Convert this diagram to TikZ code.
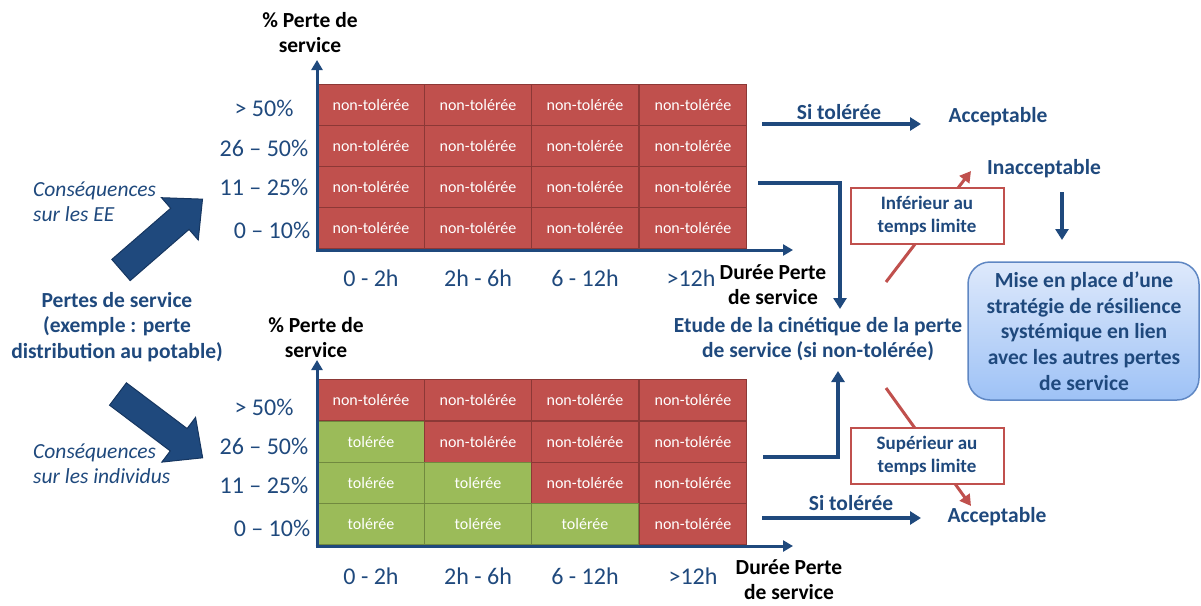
\documentclass[tikz,border=0pt]{standalone}
\usepackage{fontspec}
\setmainfont{Carlito}
\usetikzlibrary{arrows.meta}
\definecolor{dblue}{RGB}{31,73,125}
\definecolor{dbluedk}{RGB}{22,54,96}
\definecolor{cred}{RGB}{192,80,77}
\definecolor{credb}{RGB}{140,56,54}
\definecolor{cgreen}{RGB}{155,187,89}
\definecolor{cgreenb}{RGB}{113,137,63}
\definecolor{boxtop}{RGB}{222,233,251}
\definecolor{boxbot}{RGB}{158,194,246}
\definecolor{boxedge}{RGB}{95,135,195}
\begin{document}
\begin{tikzpicture}[x=1pt,y=-1pt,
  cell/.style={line width=1.2, minimum width=107, minimum height=41, inner sep=0, text=white, font=\fontsize{16}{18}\selectfont},
  redcell/.style={cell, draw=credb, fill=cred},
  greencell/.style={cell, draw=cgreenb, fill=cgreen},
  axis/.style={draw=dblue, line width=3, -{Triangle[length=10,width=11]}},
  conn/.style={draw=dblue, line width=3.5, -{Triangle[length=11,width=13]}},
  redconn/.style={draw=cred, line width=3, -{Triangle[length=11,width=12]}},
  rowlab/.style={text=dblue, font=\fontsize{24}{26}\selectfont, inner sep=0},
  collab/.style={text=dblue, font=\fontsize{24}{26}\selectfont, inner sep=0},
  axtitle/.style={text=black, font=\bfseries\fontsize{21.5}{25}\selectfont, align=center, inner sep=0},
  bluebold/.style={text=dblue, font=\bfseries\fontsize{21.5}{25.7}\selectfont, align=center, inner sep=0},
  italab/.style={text=dblue, font=\itshape\fontsize{21.5}{25}\selectfont, align=left, inner sep=0, anchor=west},
  redbox/.style={draw=cred, line width=2, fill=white, minimum width=153, minimum height=56, align=center, text=dblue, font=\bfseries\fontsize{19}{23}\selectfont},
  bigarrow/.style={fill=dblue, draw=dbluedk, line width=1}
]
\useasboundingbox (0,0) rectangle (1201,605);

% ---------- top chart ----------
\foreach \c/\x in {1/371,2/478,3/585,4/693}{
  \foreach \r/\y in {1/105,2/146,3/187,4/228}{
    \node[redcell] (t\r\c) at (\x,\y) {non-tolérée};
  }
}
\coordinate (tO) at (317,250);
\coordinate (tYend) at (317,60);
\coordinate (tXend) at (793,250);
\draw[axis] (tO) -- (tYend);
\draw[axis] ([xshift=-1.5]tO) -- (tXend);

\node[rowlab] (tl1) at (264,108) {> 50\%};
\node[rowlab] (tl2) at (264,148) {26 – 50\%};
\node[rowlab] (tl3) at (264,187) {11 – 25\%};
\node[rowlab] (tl4) at (272,230) {0 – 10\%};

\node[collab] (tc1) at (371,278) {0 - 2h};
\node[collab] (tc2) at (478,278) {2h - 6h};
\node[collab] (tc3) at (585,278) {6 - 12h};
\node[collab] (tc4) at (691,278) {>12h};

\node[axtitle] (tyt) at (310,33) {\% Perte de\\service};
\node[axtitle] (txt) at (773,285) {Durée Perte\\de service};

% ---------- bottom chart ----------
\foreach \c/\x in {1/371,2/478,3/585,4/693}{
  \foreach \r/\y in {1/400,2/442,3/483,4/524}{
    \ifnum\c<\r
      \node[greencell] (b\r\c) at (\x,\y) {tolérée};
    \else
      \node[redcell] (b\r\c) at (\x,\y) {non-tolérée};
    \fi
  }
}
\coordinate (bO) at (317,546);
\coordinate (bYend) at (317,360);
\coordinate (bXend) at (793,546);
\draw[axis] (bO) -- (bYend);
\draw[axis] ([xshift=-1.5]bO) -- (bXend);

\node[rowlab] (bl1) at (264,407) {> 50\%};
\node[rowlab] (bl2) at (264,446) {26 – 50\%};
\node[rowlab] (bl3) at (264,485) {11 – 25\%};
\node[rowlab] (bl4) at (272,528) {0 – 10\%};

\node[collab] (bc1) at (371,576) {0 - 2h};
\node[collab] (bc2) at (478,576) {2h - 6h};
\node[collab] (bc3) at (585,576) {6 - 12h};
\node[collab] (bc4) at (693,576) {>12h};

\node[axtitle] (byt) at (316,338) {\% Perte de\\service};
\node[axtitle] (bxt) at (789,580) {Durée Perte\\de service};

% ---------- left side ----------
\node[italab] (ce) at (33,202) {Conséquences\\sur les EE};
\node[bluebold] (pds) at (117,327) {Pertes de service\\(exemple : perte\\distribution au potable)};
\node[italab] (ci) at (33,464) {Conséquences\\sur les individus};

\begin{scope}[shift={(121,270)}, rotate=41]
  \draw[bigarrow] (0,-14) -- (78,-14) -- (78,-28) -- (108,0) -- (78,28) -- (78,14) -- (0,14) -- cycle;
\end{scope}
\begin{scope}[shift={(118,394)}, rotate=-37]
  \draw[bigarrow] (0,-14) -- (76,-14) -- (76,-28) -- (106,0) -- (76,28) -- (76,14) -- (0,14) -- cycle;
\end{scope}

% ---------- right side ----------
\node[bluebold] (st1) at (839,112) {Si tolérée};
\node[bluebold] (acc1) at (998,117) {Acceptable};
\coordinate (st1a) at (762,124);
\coordinate (st1b) at (921,124);
\draw[conn] (st1a) -- (st1b);

\node[bluebold] (inacc) at (1044,169) {Inacceptable};
\coordinate (inaccA) at (1062,192);
\coordinate (inaccB) at (1062,240);
\draw[conn] (inaccA) -- (inaccB);

\node[bluebold] (etude) at (818,339) {Etude de la cinétique de la perte\\de service (si non-tolérée)};
\coordinate (topout) at (758,183);
\coordinate (topin) at (840,309);
\draw[conn] (topout) -| (topin);
\coordinate (botout) at (763,457);
\coordinate (botin) at (838,371);
\draw[conn] (botout) -| (botin);

\node[bluebold] (st2) at (851,503) {Si tolérée};
\node[bluebold] (acc2) at (997,517) {Acceptable};
\coordinate (st2a) at (762,518);
\coordinate (st2b) at (921,518);
\draw[conn] (st2a) -- (st2b);

\coordinate (ru0) at (886,282);
\coordinate (ru1) at (971,171);
\draw[redconn] (ru0) -- (ru1);
\node[redbox] (inf) at (927,216) {Inférieur au\\temps limite};
\coordinate (rd0) at (886,388);
\coordinate (rd1) at (971,506);
\draw[redconn] (rd0) -- (rd1);
\node[redbox] (sup) at (927,456) {Supérieur au\\temps limite};

\shade[top color=boxtop, bottom color=boxbot, draw=boxedge, line width=1.5, rounded corners=22] (968,262) rectangle (1199,400);
\node[bluebold] (mise) at (1084,331) {Mise en place d’une\\stratégie de résilience\\systémique en lien\\avec les autres pertes\\de service};
\end{tikzpicture}
\end{document}
